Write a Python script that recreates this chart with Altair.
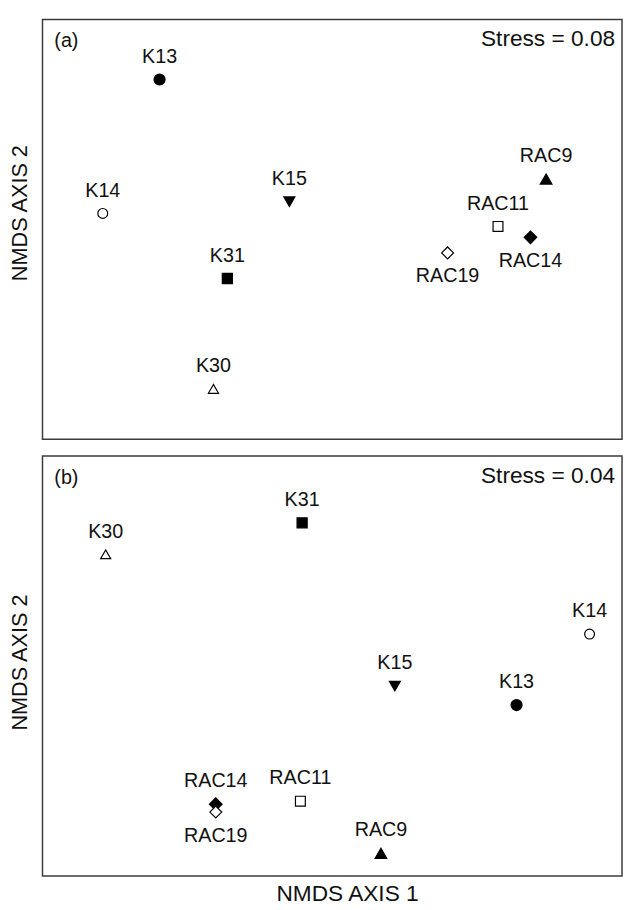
import altair as alt
import pandas as pd

# Sites, plotting symbols and fill state
sites = ["K13", "K14", "K15", "K30", "K31", "RAC9", "RAC11", "RAC14", "RAC19"]
shapes = ["circle", "circle", "triangle-down", "triangle-up", "square",
          "triangle-up", "square", "diamond", "diamond"]
fills = ["filled", "open", "filled", "open", "filled",
         "filled", "open", "filled", "open"]

# Panel (a) ordination scores (relative units, axis has no ticks)
a_x = [20.2, 10.4, 42.6, 29.5, 31.9, 86.9, 78.6, 84.2, 69.9]
a_y = [85.7, 53.8, 56.6, 12.0, 38.3, 62.0, 50.7, 48.1, 44.4]
a_label = ["above", "above", "above", "above", "above", "above", "above", "below", "below"]

# Panel (b) ordination scores
b_x = [81.8, 94.4, 60.8, 10.9, 44.8, 58.4, 44.5, 29.9, 29.9]
b_y = [40.7, 57.6, 45.2, 76.6, 84.1, 5.4, 17.8, 17.1, 15.2]
b_label = ["above", "above", "above", "above", "above", "above", "above", "above", "below"]

stress_a = "Stress = 0.08"
stress_b = "Stress = 0.04"

FONT = "Liberation Sans"
W, H = 588, 426
TXT = "#111111"
SYMBOL_SIZES = [125, 100, 125, 105, 105, 140, 100, 165, 145]


def make_df(xs, ys, pos):
    return pd.DataFrame({"site": sites, "x": xs, "y": ys, "fill": fills, "pos": pos})


def panel(df, tag, stress, x_title, title_y):
    base = alt.Chart(df)
    if x_title:
        xaxis = alt.Axis(title="NMDS AXIS 1", labels=False, ticks=False, domain=False,
                         grid=False, titleFont=FONT, titleFontSize=23,
                         titleFontWeight="normal", titleColor=TXT, titlePadding=7,
                         titleX=309)
    else:
        xaxis = None
    x = alt.X("x:Q", scale=alt.Scale(domain=[0, 100]), axis=xaxis)
    y = alt.Y("y:Q", scale=alt.Scale(domain=[0, 100]),
              axis=alt.Axis(title="NMDS AXIS 2", labels=False, ticks=False, domain=False,
                            grid=False, titleFont=FONT, titleFontSize=22,
                            titleFontWeight="normal", titleColor=TXT, titlePadding=11,
                            titleY=title_y))
    pts = base.mark_point(filled=True, stroke="black", strokeWidth=1.2,
                          opacity=1).encode(
        x=x, y=y,
        shape=alt.Shape("site:N", scale=alt.Scale(domain=sites, range=shapes), legend=None),
        size=alt.Size("site:N", scale=alt.Scale(type="ordinal", domain=sites,
                                                range=SYMBOL_SIZES), legend=None),
        fill=alt.Fill("fill:N", scale=alt.Scale(domain=["filled", "open"],
                                                range=["black", "white"]), legend=None),
    )
    above = base.transform_filter(alt.datum.pos == "above").mark_text(
        font=FONT, fontSize=20, color=TXT, dy=-23, baseline="middle"
    ).encode(x=x, y=y, text="site:N")
    below = base.transform_filter(alt.datum.pos == "below").mark_text(
        font=FONT, fontSize=20, color=TXT, dy=24, baseline="middle"
    ).encode(x=x, y=y, text="site:N")
    tag_t = alt.Chart(pd.DataFrame({"t": [tag]})).mark_text(
        font=FONT, fontSize=20, color=TXT, align="left", baseline="middle"
    ).encode(x=alt.value(12), y=alt.value(22), text="t:N")
    st_t = alt.Chart(pd.DataFrame({"t": [stress]})).mark_text(
        font=FONT, fontSize=23, color=TXT, align="right", baseline="middle"
    ).encode(x=alt.value(W - 7), y=alt.value(20), text="t:N")
    return alt.layer(pts, above, below, tag_t, st_t).properties(width=W, height=H)


pa = panel(make_df(a_x, a_y, a_label), "(a)", stress_a, False, 196)
pb = panel(make_df(b_x, b_y, b_label), "(b)", stress_b, True, 209)

chart = alt.vconcat(pa, pb, spacing=15).properties(
    padding={"left": 0, "top": 4, "right": 0, "bottom": 0},
    background="white",
).configure_view(stroke="#3c3c3c", strokeWidth=1.5)

chart.save("out.html", embed_options={"renderer": "svg", "actions": False})
